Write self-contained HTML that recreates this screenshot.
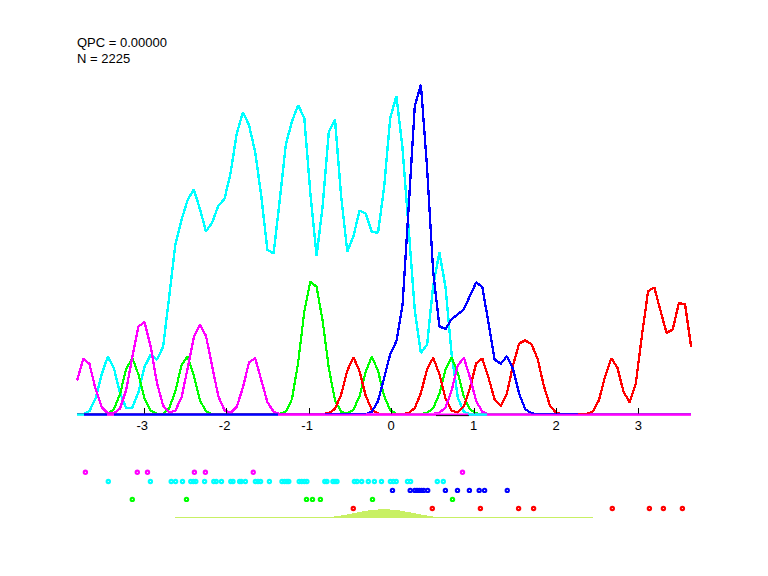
<!DOCTYPE html>
<html><head><meta charset="utf-8"><style>
html,body{margin:0;padding:0;background:#fff;}
body{width:768px;height:576px;position:relative;overflow:hidden;font-family:"Liberation Sans",sans-serif;color:#000;}
.t{position:absolute;left:77px;font-size:13px;line-height:15px;white-space:pre;}
.tl{position:absolute;top:417.7px;width:40px;text-align:center;font-size:13px;line-height:15px;}
</style></head><body>
<svg width="768" height="576" viewBox="0 0 768 576" shape-rendering="crispEdges" style="position:absolute;left:0;top:0">
<defs><clipPath id="cp"><rect x="0" y="0" width="768" height="413.6"/></clipPath></defs><g clip-path="url(#cp)">
<polyline points="77.1,414.5 83.2,414.1 89.4,411.1 95.5,398.7 101.7,374.1 107.8,356.7 113.9,368.0 120.1,393.2 126.2,408.1 132.4,407.6 138.5,391.8 144.6,366.5 150.8,354.6 156.9,359.7 163.1,346.9 169.2,296.7 175.3,244.7 181.5,220.0 187.6,200.0 193.8,189.5 199.9,208.9 206.0,231.4 212.2,222.4 218.3,205.9 224.5,198.9 230.6,173.0 236.7,133.8 242.9,112.1 249.0,125.0 255.2,151.9 261.3,196.2 267.4,250.0 273.6,253.3 279.7,200.5 285.9,144.0 292.0,121.5 298.1,105.1 304.3,118.0 310.4,193.9 316.6,255.9 322.7,205.5 328.8,132.0 335.0,119.5 341.1,195.7 347.3,251.4 353.4,236.6 359.5,210.4 365.7,213.5 371.8,231.9 378.0,232.8 384.1,187.6 390.2,118.1 396.4,96.2 402.5,148.0 408.7,229.0 414.8,310.5 420.9,352.9 427.1,344.6 433.2,285.4 439.4,252.6 445.5,286.8 451.6,353.8 457.8,397.7 463.9,411.9 470.1,414.3 476.2,414.5 482.3,414.5 488.5,414.5 494.6,414.5 500.8,414.5 506.9,414.5 513.0,414.5 519.2,414.5 525.3,414.5 531.5,414.5 537.6,414.5 543.7,414.5 549.9,414.5 556.0,414.5 562.2,414.5 568.3,414.5 574.4,414.5 580.6,414.5 586.7,414.5 592.9,414.5 599.0,414.5 605.1,414.5 611.3,414.5 617.4,414.5 623.6,414.5 629.7,414.5 635.8,414.5 642.0,414.5 648.1,414.5 654.3,414.5 660.4,414.5 666.5,414.5 672.7,414.5 678.8,414.5 685.0,414.5 691.1,414.5" fill="none" stroke="#00ffff" stroke-width="2.4" stroke-linejoin="bevel"/>
<polyline points="77.1,414.5 83.2,414.5 89.4,414.5 95.5,414.5 101.7,414.4 107.8,413.8 113.9,409.3 120.1,393.8 126.2,368.9 132.4,357.9 138.5,374.7 144.6,398.4 150.8,410.7 156.9,413.9 163.1,413.6 169.2,408.4 175.3,391.4 181.5,365.4 187.6,356.3 193.8,375.9 199.9,400.2 206.0,411.5 212.2,414.1 218.3,414.5 224.5,414.5 230.6,414.5 236.7,414.5 242.9,414.5 249.0,414.5 255.2,414.5 261.3,414.5 267.4,414.4 273.6,414.3 279.7,413.9 285.9,411.5 292.0,399.0 298.1,362.9 304.3,311.7 310.4,281.4 316.6,286.9 322.7,321.1 328.8,368.0 335.0,400.3 341.1,411.8 347.3,413.4 353.4,409.9 359.5,396.3 365.7,371.5 371.8,356.6 378.0,370.7 384.1,396.0 390.2,410.2 396.4,413.9 402.5,414.5 408.7,414.5 414.8,414.4 420.9,414.1 427.1,412.8 433.2,408.1 439.4,393.9 445.5,369.8 451.6,357.3 457.8,372.7 463.9,396.7 470.1,409.5 476.2,413.3 482.3,414.3 488.5,414.5 494.6,414.5 500.8,414.5 506.9,414.5 513.0,414.5 519.2,414.5 525.3,414.5 531.5,414.5 537.6,414.5 543.7,414.5 549.9,414.5 556.0,414.5 562.2,414.5 568.3,414.5 574.4,414.5 580.6,414.5 586.7,414.5 592.9,414.5 599.0,414.5 605.1,414.5 611.3,414.5 617.4,414.5 623.6,414.5 629.7,414.5 635.8,414.5 642.0,414.5 648.1,414.5 654.3,414.5 660.4,414.5 666.5,414.5 672.7,414.5 678.8,414.5 685.0,414.5 691.1,414.5" fill="none" stroke="#00ff00" stroke-width="2.2" stroke-linejoin="bevel"/>
<polyline points="77.1,414.5 83.2,414.5 89.4,414.5 95.5,414.5 101.7,414.5 107.8,414.5 113.9,414.5 120.1,414.5 126.2,414.5 132.4,414.5 138.5,414.5 144.6,414.5 150.8,414.5 156.9,414.5 163.1,414.5 169.2,414.5 175.3,414.5 181.5,414.5 187.6,414.5 193.8,414.5 199.9,414.5 206.0,414.5 212.2,414.5 218.3,414.5 224.5,414.5 230.6,414.5 236.7,414.5 242.9,414.5 249.0,414.5 255.2,414.5 261.3,414.5 267.4,414.5 273.6,414.5 279.7,414.5 285.9,414.5 292.0,414.5 298.1,414.5 304.3,414.5 310.4,414.5 316.6,414.4 322.7,414.1 328.8,413.1 335.0,408.8 341.1,394.8 347.3,370.7 353.4,357.2 359.5,371.1 365.7,395.6 371.8,409.7 378.0,413.6 384.1,414.2 390.2,414.4 396.4,414.4 402.5,414.2 408.7,413.1 414.8,408.1 420.9,393.1 427.1,369.1 433.2,357.8 439.4,374.1 445.5,398.3 451.6,410.7 457.8,412.6 463.9,406.2 470.1,387.4 476.2,363.4 482.3,358.4 488.5,377.7 494.6,399.3 500.8,406.2 506.9,393.5 513.0,365.3 519.2,343.4 525.3,340.4 531.5,344.3 537.6,358.7 543.7,385.4 549.9,405.6 556.0,412.8 562.2,414.1 568.3,414.3 574.4,414.4 580.6,414.4 586.7,414.1 592.9,411.4 599.0,400.1 605.1,376.4 611.3,358.1 617.4,367.7 623.6,392.0 629.7,402.3 635.8,383.4 642.0,335.1 648.1,291.1 654.3,287.4 660.4,310.4 666.5,332.8 672.7,329.7 678.8,303.3 685.0,304.0 691.1,346.7" fill="none" stroke="#ff0000" stroke-width="2.3" stroke-linejoin="bevel"/>
<polyline points="77.1,414.5 83.2,414.5 89.4,414.5 95.5,414.5 101.7,414.5 107.8,414.5 113.9,414.5 120.1,414.5 126.2,414.5 132.4,414.5 138.5,414.5 144.6,414.5 150.8,414.5 156.9,414.5 163.1,414.5 169.2,414.5 175.3,414.5 181.5,414.5 187.6,414.5 193.8,414.5 199.9,414.5 206.0,414.5 212.2,414.5 218.3,414.5 224.5,414.5 230.6,414.5 236.7,414.5 242.9,414.5 249.0,414.5 255.2,414.5 261.3,414.5 267.4,414.5 273.6,414.5 279.7,414.5 285.9,414.5 292.0,414.5 298.1,414.5 304.3,414.5 310.4,414.5 316.6,414.5 322.7,414.5 328.8,414.5 335.0,414.5 341.1,414.5 347.3,414.5 353.4,414.5 359.5,414.5 365.7,414.2 371.8,411.8 378.0,401.2 384.1,378.0 390.2,354.2 396.4,341.2 402.5,305.5 408.7,206.4 414.8,106.0 420.9,84.7 427.1,168.4 433.2,271.9 439.4,326.2 445.5,329.2 451.6,319.1 457.8,314.4 463.9,309.1 470.1,295.6 476.2,282.3 482.3,287.1 488.5,322.8 494.6,359.5 500.8,363.8 506.9,356.1 513.0,369.0 519.2,394.0 525.3,409.1 531.5,413.4 537.6,414.2 543.7,414.4 549.9,414.5 556.0,414.5 562.2,414.5 568.3,414.5 574.4,414.5 580.6,414.5 586.7,414.5 592.9,414.5 599.0,414.5 605.1,414.5 611.3,414.5 617.4,414.5 623.6,414.5 629.7,414.5 635.8,414.5 642.0,414.5 648.1,414.5 654.3,414.5 660.4,414.5 666.5,414.5 672.7,414.5 678.8,414.5 685.0,414.5 691.1,414.5" fill="none" stroke="#0000ff" stroke-width="2.3" stroke-linejoin="bevel"/>
<polyline points="77.1,380.6 83.2,358.9 89.4,363.8 95.5,388.8 101.7,407.2 107.8,413.3 113.9,413.5 120.1,408.4 126.2,390.1 132.4,356.6 138.5,326.5 144.6,322.1 150.8,347.1 156.9,382.7 163.1,405.5 169.2,412.6 175.3,410.7 181.5,397.5 187.6,368.5 193.8,337.4 199.9,324.4 206.0,335.9 212.2,366.5 218.3,396.2 224.5,410.3 230.6,412.8 236.7,406.8 242.9,387.6 249.0,362.4 255.2,358.1 261.3,380.1 267.4,402.2 273.6,411.7 279.7,414.0 285.9,414.4 292.0,414.5 298.1,414.5 304.3,414.5 310.4,414.5 316.6,414.5 322.7,414.5 328.8,414.5 335.0,414.5 341.1,414.5 347.3,414.5 353.4,414.5 359.5,414.5 365.7,414.5 371.8,414.5 378.0,414.5 384.1,414.5 390.2,414.5 396.4,414.5 402.5,414.5 408.7,414.5 414.8,414.5 420.9,414.5 427.1,414.3 433.2,413.9 439.4,412.8 445.5,407.5 451.6,390.5 457.8,365.3 463.9,357.8 470.1,377.8 476.2,401.2 482.3,411.8 488.5,414.2 494.6,414.5 500.8,414.5 506.9,414.5 513.0,414.5 519.2,414.5 525.3,414.5 531.5,414.5 537.6,414.5 543.7,414.5 549.9,414.5 556.0,414.5 562.2,414.5 568.3,414.5 574.4,414.5 580.6,414.5 586.7,414.5 592.9,414.5 599.0,414.5 605.1,414.5 611.3,414.5 617.4,414.5 623.6,414.5 629.7,414.5 635.8,414.5 642.0,414.5 648.1,414.5 654.3,414.5 660.4,414.5 666.5,414.5 672.7,414.5 678.8,414.5 685.0,414.5 691.1,414.5" fill="none" stroke="#ff00ff" stroke-width="2.3" stroke-linejoin="bevel"/>
</g>
<rect x="77" y="413.5" width="7" height="2.3" fill="#00ffff" shape-rendering="geometricPrecision"/>
<rect x="84" y="413.5" width="23" height="2.3" fill="#0000ff" shape-rendering="geometricPrecision"/>
<rect x="107" y="413.5" width="7" height="2.3" fill="#ff00ff" shape-rendering="geometricPrecision"/>
<rect x="114" y="413.5" width="164" height="2.3" fill="#0000ff" shape-rendering="geometricPrecision"/>
<rect x="278" y="413.5" width="413" height="2.3" fill="#ff00ff" shape-rendering="geometricPrecision"/>
<rect x="468" y="413.5" width="19" height="2.3" fill="#00ffff" shape-rendering="geometricPrecision"/>
<rect x="436" y="415.2" width="33" height="0.9" fill="#000" shape-rendering="geometricPrecision"/>
<rect x="325" y="413.3" width="41" height="0.8" fill="#0000ff" shape-rendering="geometricPrecision"/>
<rect x="531" y="413.3" width="47" height="0.8" fill="#0000ff" shape-rendering="geometricPrecision"/>
<rect x="578" y="413.3" width="12" height="0.8" fill="#ff0000" shape-rendering="geometricPrecision"/>
<rect x="144" y="408" width="1" height="5.5" fill="#000" shape-rendering="geometricPrecision"/>
<rect x="226" y="408" width="1" height="5.5" fill="#000" shape-rendering="geometricPrecision"/>
<rect x="309" y="408" width="1" height="5.5" fill="#000" shape-rendering="geometricPrecision"/>
<rect x="391" y="408" width="1" height="5.5" fill="#000" shape-rendering="geometricPrecision"/>
<rect x="474" y="408" width="1" height="5.5" fill="#000" shape-rendering="geometricPrecision"/>
<rect x="556" y="408" width="1" height="5.5" fill="#000" shape-rendering="geometricPrecision"/>
<rect x="638" y="408" width="1" height="5.5" fill="#000" shape-rendering="geometricPrecision"/>
<polygon points="333.9,518 333.9,516.6 335.2,516.4 336.4,516.2 337.7,516.1 339.0,515.9 340.2,515.7 341.5,515.4 342.8,515.2 344.0,515.0 345.3,514.8 346.6,514.5 347.8,514.3 349.1,514.1 350.4,513.8 351.6,513.6 352.9,513.3 354.2,513.1 355.4,512.8 356.7,512.6 358.0,512.3 359.2,512.1 360.5,511.8 361.7,511.6 363.0,511.4 364.3,511.2 365.5,510.9 366.8,510.7 368.1,510.5 369.3,510.4 370.6,510.2 371.9,510.0 373.1,509.9 374.4,509.8 375.7,509.6 376.9,509.5 378.2,509.5 379.5,509.4 380.7,509.3 382.0,509.3 383.3,509.3 384.5,509.3 385.8,509.3 387.1,509.3 388.3,509.4 389.6,509.5 390.9,509.5 392.1,509.6 393.4,509.8 394.7,509.9 395.9,510.0 397.2,510.2 398.5,510.4 399.7,510.5 401.0,510.7 402.3,510.9 403.5,511.2 404.8,511.4 406.1,511.6 407.3,511.8 408.6,512.1 409.8,512.3 411.1,512.6 412.4,512.8 413.6,513.1 414.9,513.3 416.2,513.6 417.4,513.8 418.7,514.1 420.0,514.3 421.2,514.5 422.5,514.8 423.8,515.0 425.0,515.2 426.3,515.4 427.6,515.7 428.8,515.9 430.1,516.1 431.4,516.2 432.6,516.4 433.9,516.6 433.9,518" fill="#c8f064"/>
<rect x="175" y="517" width="418" height="1" fill="#c8f064"/>
<circle cx="85.4" cy="472.3" r="1.65" fill="none" stroke="#ff00ff" stroke-width="2.1" shape-rendering="auto"/>
<circle cx="137.3" cy="472.3" r="1.65" fill="none" stroke="#ff00ff" stroke-width="2.1" shape-rendering="auto"/>
<circle cx="147.5" cy="472.3" r="1.65" fill="none" stroke="#ff00ff" stroke-width="2.1" shape-rendering="auto"/>
<circle cx="194.4" cy="472.3" r="1.65" fill="none" stroke="#ff00ff" stroke-width="2.1" shape-rendering="auto"/>
<circle cx="205.4" cy="472.3" r="1.65" fill="none" stroke="#ff00ff" stroke-width="2.1" shape-rendering="auto"/>
<circle cx="253.3" cy="472.3" r="1.65" fill="none" stroke="#ff00ff" stroke-width="2.1" shape-rendering="auto"/>
<circle cx="462.5" cy="472.3" r="1.65" fill="none" stroke="#ff00ff" stroke-width="2.1" shape-rendering="auto"/>
<circle cx="108.3" cy="481.5" r="1.65" fill="none" stroke="#00ffff" stroke-width="2.1" shape-rendering="auto"/>
<circle cx="150.4" cy="481.5" r="1.65" fill="none" stroke="#00ffff" stroke-width="2.1" shape-rendering="auto"/>
<circle cx="171.2" cy="481.5" r="1.65" fill="none" stroke="#00ffff" stroke-width="2.1" shape-rendering="auto"/>
<circle cx="175.6" cy="481.5" r="1.65" fill="none" stroke="#00ffff" stroke-width="2.1" shape-rendering="auto"/>
<circle cx="182.5" cy="481.5" r="1.65" fill="none" stroke="#00ffff" stroke-width="2.1" shape-rendering="auto"/>
<circle cx="190.8" cy="481.5" r="1.65" fill="none" stroke="#00ffff" stroke-width="2.1" shape-rendering="auto"/>
<circle cx="193.3" cy="481.5" r="1.65" fill="none" stroke="#00ffff" stroke-width="2.1" shape-rendering="auto"/>
<circle cx="195.8" cy="481.5" r="1.65" fill="none" stroke="#00ffff" stroke-width="2.1" shape-rendering="auto"/>
<circle cx="204.6" cy="481.5" r="1.65" fill="none" stroke="#00ffff" stroke-width="2.1" shape-rendering="auto"/>
<circle cx="213.8" cy="481.5" r="1.65" fill="none" stroke="#00ffff" stroke-width="2.1" shape-rendering="auto"/>
<circle cx="216.2" cy="481.5" r="1.65" fill="none" stroke="#00ffff" stroke-width="2.1" shape-rendering="auto"/>
<circle cx="221.5" cy="481.5" r="1.65" fill="none" stroke="#00ffff" stroke-width="2.1" shape-rendering="auto"/>
<circle cx="230.8" cy="481.5" r="1.65" fill="none" stroke="#00ffff" stroke-width="2.1" shape-rendering="auto"/>
<circle cx="233.0" cy="481.5" r="1.65" fill="none" stroke="#00ffff" stroke-width="2.1" shape-rendering="auto"/>
<circle cx="239.6" cy="481.5" r="1.65" fill="none" stroke="#00ffff" stroke-width="2.1" shape-rendering="auto"/>
<circle cx="241.2" cy="481.5" r="1.65" fill="none" stroke="#00ffff" stroke-width="2.1" shape-rendering="auto"/>
<circle cx="245.4" cy="481.5" r="1.65" fill="none" stroke="#00ffff" stroke-width="2.1" shape-rendering="auto"/>
<circle cx="255.4" cy="481.5" r="1.65" fill="none" stroke="#00ffff" stroke-width="2.1" shape-rendering="auto"/>
<circle cx="258.0" cy="481.5" r="1.65" fill="none" stroke="#00ffff" stroke-width="2.1" shape-rendering="auto"/>
<circle cx="260.6" cy="481.5" r="1.65" fill="none" stroke="#00ffff" stroke-width="2.1" shape-rendering="auto"/>
<circle cx="269.4" cy="481.5" r="1.65" fill="none" stroke="#00ffff" stroke-width="2.1" shape-rendering="auto"/>
<circle cx="282.0" cy="481.5" r="1.65" fill="none" stroke="#00ffff" stroke-width="2.1" shape-rendering="auto"/>
<circle cx="284.6" cy="481.5" r="1.65" fill="none" stroke="#00ffff" stroke-width="2.1" shape-rendering="auto"/>
<circle cx="287.0" cy="481.5" r="1.65" fill="none" stroke="#00ffff" stroke-width="2.1" shape-rendering="auto"/>
<circle cx="288.8" cy="481.5" r="1.65" fill="none" stroke="#00ffff" stroke-width="2.1" shape-rendering="auto"/>
<circle cx="299.2" cy="481.5" r="1.65" fill="none" stroke="#00ffff" stroke-width="2.1" shape-rendering="auto"/>
<circle cx="301.7" cy="481.5" r="1.65" fill="none" stroke="#00ffff" stroke-width="2.1" shape-rendering="auto"/>
<circle cx="304.4" cy="481.5" r="1.65" fill="none" stroke="#00ffff" stroke-width="2.1" shape-rendering="auto"/>
<circle cx="306.9" cy="481.5" r="1.65" fill="none" stroke="#00ffff" stroke-width="2.1" shape-rendering="auto"/>
<circle cx="324.8" cy="481.5" r="1.65" fill="none" stroke="#00ffff" stroke-width="2.1" shape-rendering="auto"/>
<circle cx="326.9" cy="481.5" r="1.65" fill="none" stroke="#00ffff" stroke-width="2.1" shape-rendering="auto"/>
<circle cx="333.0" cy="481.5" r="1.65" fill="none" stroke="#00ffff" stroke-width="2.1" shape-rendering="auto"/>
<circle cx="335.0" cy="481.5" r="1.65" fill="none" stroke="#00ffff" stroke-width="2.1" shape-rendering="auto"/>
<circle cx="337.0" cy="481.5" r="1.65" fill="none" stroke="#00ffff" stroke-width="2.1" shape-rendering="auto"/>
<circle cx="354.4" cy="481.5" r="1.65" fill="none" stroke="#00ffff" stroke-width="2.1" shape-rendering="auto"/>
<circle cx="357.0" cy="481.5" r="1.65" fill="none" stroke="#00ffff" stroke-width="2.1" shape-rendering="auto"/>
<circle cx="361.7" cy="481.5" r="1.65" fill="none" stroke="#00ffff" stroke-width="2.1" shape-rendering="auto"/>
<circle cx="368.3" cy="481.5" r="1.65" fill="none" stroke="#00ffff" stroke-width="2.1" shape-rendering="auto"/>
<circle cx="374.4" cy="481.5" r="1.65" fill="none" stroke="#00ffff" stroke-width="2.1" shape-rendering="auto"/>
<circle cx="381.5" cy="481.5" r="1.65" fill="none" stroke="#00ffff" stroke-width="2.1" shape-rendering="auto"/>
<circle cx="390.4" cy="481.5" r="1.65" fill="none" stroke="#00ffff" stroke-width="2.1" shape-rendering="auto"/>
<circle cx="393.3" cy="481.5" r="1.65" fill="none" stroke="#00ffff" stroke-width="2.1" shape-rendering="auto"/>
<circle cx="396.2" cy="481.5" r="1.65" fill="none" stroke="#00ffff" stroke-width="2.1" shape-rendering="auto"/>
<circle cx="407.5" cy="481.5" r="1.65" fill="none" stroke="#00ffff" stroke-width="2.1" shape-rendering="auto"/>
<circle cx="410.6" cy="481.5" r="1.65" fill="none" stroke="#00ffff" stroke-width="2.1" shape-rendering="auto"/>
<circle cx="437.3" cy="481.5" r="1.65" fill="none" stroke="#00ffff" stroke-width="2.1" shape-rendering="auto"/>
<circle cx="443.3" cy="481.5" r="1.65" fill="none" stroke="#00ffff" stroke-width="2.1" shape-rendering="auto"/>
<circle cx="392.5" cy="490.4" r="1.65" fill="none" stroke="#0000ff" stroke-width="2.1" shape-rendering="auto"/>
<circle cx="410.2" cy="490.4" r="1.65" fill="none" stroke="#0000ff" stroke-width="2.1" shape-rendering="auto"/>
<circle cx="414.8" cy="490.4" r="1.65" fill="none" stroke="#0000ff" stroke-width="2.1" shape-rendering="auto"/>
<circle cx="417.0" cy="490.4" r="1.65" fill="none" stroke="#0000ff" stroke-width="2.1" shape-rendering="auto"/>
<circle cx="419.2" cy="490.4" r="1.65" fill="none" stroke="#0000ff" stroke-width="2.1" shape-rendering="auto"/>
<circle cx="421.5" cy="490.4" r="1.65" fill="none" stroke="#0000ff" stroke-width="2.1" shape-rendering="auto"/>
<circle cx="423.8" cy="490.4" r="1.65" fill="none" stroke="#0000ff" stroke-width="2.1" shape-rendering="auto"/>
<circle cx="427.7" cy="490.4" r="1.65" fill="none" stroke="#0000ff" stroke-width="2.1" shape-rendering="auto"/>
<circle cx="445.4" cy="490.4" r="1.65" fill="none" stroke="#0000ff" stroke-width="2.1" shape-rendering="auto"/>
<circle cx="457.5" cy="490.4" r="1.65" fill="none" stroke="#0000ff" stroke-width="2.1" shape-rendering="auto"/>
<circle cx="469.4" cy="490.4" r="1.65" fill="none" stroke="#0000ff" stroke-width="2.1" shape-rendering="auto"/>
<circle cx="479.2" cy="490.4" r="1.65" fill="none" stroke="#0000ff" stroke-width="2.1" shape-rendering="auto"/>
<circle cx="484.6" cy="490.4" r="1.65" fill="none" stroke="#0000ff" stroke-width="2.1" shape-rendering="auto"/>
<circle cx="507.3" cy="490.4" r="1.65" fill="none" stroke="#0000ff" stroke-width="2.1" shape-rendering="auto"/>
<circle cx="132.3" cy="499.4" r="1.65" fill="none" stroke="#00ff00" stroke-width="2.1" shape-rendering="auto"/>
<circle cx="186.5" cy="499.4" r="1.65" fill="none" stroke="#00ff00" stroke-width="2.1" shape-rendering="auto"/>
<circle cx="306.5" cy="499.4" r="1.65" fill="none" stroke="#00ff00" stroke-width="2.1" shape-rendering="auto"/>
<circle cx="312.5" cy="499.4" r="1.65" fill="none" stroke="#00ff00" stroke-width="2.1" shape-rendering="auto"/>
<circle cx="320.4" cy="499.4" r="1.65" fill="none" stroke="#00ff00" stroke-width="2.1" shape-rendering="auto"/>
<circle cx="372.5" cy="499.4" r="1.65" fill="none" stroke="#00ff00" stroke-width="2.1" shape-rendering="auto"/>
<circle cx="452.5" cy="499.4" r="1.65" fill="none" stroke="#00ff00" stroke-width="2.1" shape-rendering="auto"/>
<circle cx="353.3" cy="508.5" r="1.65" fill="none" stroke="#ff0000" stroke-width="2.1" shape-rendering="auto"/>
<circle cx="432.3" cy="508.5" r="1.65" fill="none" stroke="#ff0000" stroke-width="2.1" shape-rendering="auto"/>
<circle cx="480.4" cy="508.5" r="1.65" fill="none" stroke="#ff0000" stroke-width="2.1" shape-rendering="auto"/>
<circle cx="518.6" cy="508.5" r="1.65" fill="none" stroke="#ff0000" stroke-width="2.1" shape-rendering="auto"/>
<circle cx="533.6" cy="508.5" r="1.65" fill="none" stroke="#ff0000" stroke-width="2.1" shape-rendering="auto"/>
<circle cx="612.3" cy="508.5" r="1.65" fill="none" stroke="#ff0000" stroke-width="2.1" shape-rendering="auto"/>
<circle cx="649.4" cy="508.5" r="1.65" fill="none" stroke="#ff0000" stroke-width="2.1" shape-rendering="auto"/>
<circle cx="663.4" cy="508.5" r="1.65" fill="none" stroke="#ff0000" stroke-width="2.1" shape-rendering="auto"/>
<circle cx="682.4" cy="508.5" r="1.65" fill="none" stroke="#ff0000" stroke-width="2.1" shape-rendering="auto"/>
</svg>
<div class="t" style="top:34.6px">QPC = 0.00000</div>
<div class="t" style="top:50.9px">N = 2225</div>
<div class="tl" style="left:122.2px">-3</div><div class="tl" style="left:204.6px">-2</div><div class="tl" style="left:287.1px">-1</div><div class="tl" style="left:371.1px">0</div><div class="tl" style="left:453.5px">1</div><div class="tl" style="left:536.0px">2</div><div class="tl" style="left:618.4px">3</div>
</body></html>
